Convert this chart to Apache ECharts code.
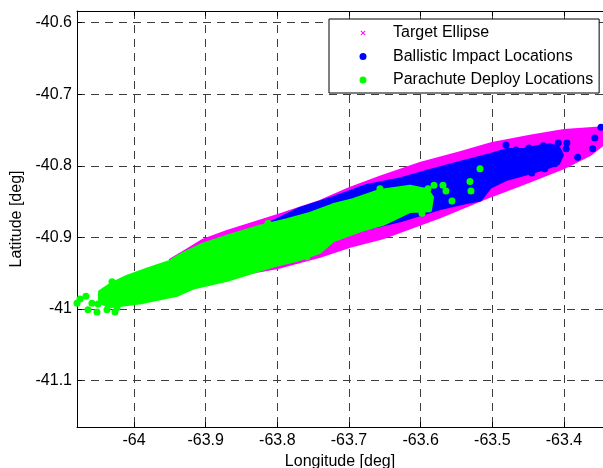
<!DOCTYPE html>
<html><head><meta charset="utf-8">
<script src="https://cdn.jsdelivr.net/npm/echarts@6/dist/echarts.min.js"></script>
<style>html,body{margin:0;padding:0;background:#fff}#c{width:603px;height:468px}</style>
</head><body><div id="c"></div>
<script>
// ---- data ----
const xAxisTitle = 'Longitude [deg]';
const yAxisTitle = 'Latitude [deg]';
const seriesNames = ['Target Ellipse', 'Ballistic Impact Locations', 'Parachute Deploy Locations'];
const xRange = [-64.0795, -63.3456];
const yRange = [-41.1647, -40.5837];

// outline of the dense "Target Ellipse" cloud [lon, lat]
const ellipseOutline = [
  [-63.9498,-40.931],[-63.9316,-40.920],[-63.9037,-40.903],[-63.8702,-40.891],[-63.8005,-40.869],
  [-63.7405,-40.849],[-63.7000,-40.831],[-63.6568,-40.815],[-63.6009,-40.796],[-63.5451,-40.781],
  [-63.5005,-40.768],[-63.4475,-40.758],[-63.4000,-40.750],[-63.3456,-40.746],[-63.3219,-40.746],
  [-63.3219,-40.753],[-63.3456,-40.771],[-63.3637,-40.785],[-63.4000,-40.803],[-63.4475,-40.822],
  [-63.5005,-40.842],[-63.5730,-40.872],[-63.6526,-40.901],[-63.6986,-40.913],[-63.7405,-40.927],
  [-63.8005,-40.943],[-63.8619,-40.954],[-63.9079,-40.949],[-63.9428,-40.940]
];

// outline of the dense ballistic impact cloud
const ballisticCore = [
  [-63.866,-40.902],[-63.817,-40.884],[-63.768,-40.860],[-63.722,-40.845],[-63.675,-40.828],
  [-63.629,-40.819],[-63.583,-40.806],[-63.545,-40.796],[-63.503,-40.785],[-63.480,-40.778],
  [-63.457,-40.778],[-63.438,-40.774],[-63.420,-40.771],[-63.408,-40.775],[-63.403,-40.785],
  [-63.408,-40.796],[-63.427,-40.803],[-63.447,-40.809],[-63.480,-40.818],[-63.503,-40.829],
  [-63.517,-40.847],[-63.538,-40.851],[-63.573,-40.859],[-63.629,-40.876],[-63.675,-40.887],
  [-63.722,-40.899],[-63.768,-40.913],[-63.817,-40.927],[-63.866,-40.934]
];
// scattered ballistic impact points
const ballisticPoints = [
  [-63.3484,-40.746],[-63.357,-40.761],[-63.360,-40.776],[-63.381,-40.788],[-63.396,-40.768],
  [-63.397,-40.776],[-63.408,-40.768],[-63.410,-40.788],[-63.413,-40.797],[-63.427,-40.804],
  [-63.445,-40.810],[-63.481,-40.771],[-63.467,-40.778],[-63.449,-40.775],[-63.429,-40.772],
  [-63.643,-40.824],[-63.517,-40.839],[-63.591,-40.810]
];

// outline of the dense parachute deploy cloud
const parachuteCore = [
  [-64.0474,-40.976],[-64.0307,-40.965],[-64.0098,-40.955],[-63.9819,-40.945],[-63.9498,-40.934],
  [-63.9316,-40.923],[-63.9037,-40.910],[-63.8702,-40.899],[-63.8242,-40.885],[-63.7865,-40.876],
  [-63.7544,-40.867],[-63.7223,-40.855],[-63.6944,-40.848],[-63.6568,-40.835],[-63.6149,-40.829],
  [-63.5912,-40.834],[-63.5842,-40.844],[-63.5870,-40.862],[-63.6149,-40.863],[-63.6526,-40.881],
  [-63.6847,-40.890],[-63.7223,-40.904],[-63.7405,-40.920],[-63.7684,-40.930],[-63.8005,-40.938],
  [-63.8242,-40.945],[-63.8702,-40.959],[-63.9177,-40.970],[-63.9400,-40.980],[-63.9874,-40.990],
  [-64.0335,-40.996],[-64.0474,-40.990]
];
// scattered parachute deploy points
const parachutePoints = [
  [-64.0795,-40.992],[-64.0753,-40.986],[-64.0670,-40.982],[-64.0642,-41.001],[-64.0586,-40.992],
  [-64.0516,-41.004],[-64.0502,-40.993],[-64.0377,-41.001],[-64.0363,-40.993],[-64.0265,-41.004],
  [-64.0237,-40.998],[-64.0307,-40.962],[-64.0195,-40.977],
  [-63.5814,-40.827],[-63.5689,-40.827],[-63.5647,-40.835],[-63.5563,-40.849],[-63.5172,-40.804],
  [-63.5312,-40.822],[-63.5298,-40.835],[-63.5898,-40.832],[-63.5898,-40.859],[-63.5982,-40.866],
  [-63.6051,-40.858],[-63.6568,-40.832],[-63.7586,-40.927],[-63.8130,-40.880]
];

// ---- chart ----
const MAGENTA = '#ff00ff', BLUE = '#0000ff', GREEN = '#00ff00';
const FONT = 'Arial, "Liberation Sans", sans-serif';

function cloud(name, pts, color, lw) {
  return {
    name, type: 'custom', clip: true, silent: true,
    data: pts, encode: { x: 0, y: 1 },
    itemStyle: { color },
    renderItem(params, api) {
      if (params.dataIndex !== 0) return null;
      return {
        type: 'polygon',
        shape: { points: pts.map(p => api.coord(p)) },
        style: { fill: color, stroke: color, lineWidth: lw, lineJoin: 'round' }
      };
    }
  };
}
function dots(name, pts, color) {
  return { name, type: 'scatter', data: pts, symbol: 'circle', symbolSize: 7,
    itemStyle: { color, opacity: 1 }, silent: true, clip: true };
}

const xIcon = 'path://M0,0L0.01,0L0,0.01Z M50,7L49.99,7L50,6.99Z ' +
  'M22.5,1.7L23.2,1L27.5,5.3L26.8,6Z M26.8,1L27.5,1.7L23.2,6L22.5,5.3Z';

const axisCommon = {
  type: 'value',
  axisLine: { show: true, onZero: false, lineStyle: { color: '#000', width: 1 } },
  axisTick: { show: true, inside: true, length: 5, lineStyle: { color: '#000' } },
  axisLabel: { color: '#000', fontSize: 16, fontFamily: FONT, showMinLabel: false, showMaxLabel: false },
  splitLine: { show: true, lineStyle: { color: '#3c3c3c', width: 1, type: [8, 6] } }
};

const chart = echarts.init(document.getElementById('c'), null, { renderer: 'canvas' });
chart.setOption({
  animation: false,
  backgroundColor: '#fff',
  textStyle: { fontFamily: FONT },
  grid: { left: 77, right: 0, top: 11, bottom: 41, containLabel: false, outerBoundsMode: 'none' },
  xAxis: [
    Object.assign({}, axisCommon, {
      position: 'bottom', min: xRange[0], max: xRange[1],
      name: xAxisTitle, nameLocation: 'middle', nameGap: 25,
      nameTextStyle: { color: '#000', fontSize: 16, fontFamily: FONT },
      axisLabel: Object.assign({}, axisCommon.axisLabel, { margin: 6 })
    }),
    Object.assign({}, axisCommon, {
      position: 'top', min: xRange[0], max: xRange[1],
      axisLabel: { show: false }, splitLine: { show: false }
    })
  ],
  yAxis: [
    Object.assign({}, axisCommon, {
      position: 'left', min: yRange[0], max: yRange[1],
      name: yAxisTitle, nameLocation: 'middle', nameGap: 50,
      nameTextStyle: { color: '#000', fontSize: 16, fontFamily: FONT },
      axisLabel: Object.assign({}, axisCommon.axisLabel, { margin: 5 })
    })
  ],
  legend: {
    orient: 'vertical', left: 329, top: 19, align: 'left',
    padding: [6, 6, 5, 9], itemGap: 7.5, itemWidth: 50, itemHeight: 7,
    backgroundColor: '#fff', borderColor: '#000', borderWidth: 1,
    textStyle: { color: '#000', fontSize: 16, fontFamily: FONT },
    selectedMode: false,
    data: [
      { name: seriesNames[0], icon: xIcon },
      { name: seriesNames[1], icon: 'circle' },
      { name: seriesNames[2], icon: 'circle' }
    ]
  },
  series: [
    cloud(seriesNames[0], ellipseOutline, MAGENTA, 2),
    cloud(seriesNames[1], ballisticCore, BLUE, 4),
    dots(seriesNames[1], ballisticPoints, BLUE),
    cloud(seriesNames[2], parachuteCore, GREEN, 4),
    dots(seriesNames[2], parachutePoints, GREEN)
  ]
});
</script></body></html>
